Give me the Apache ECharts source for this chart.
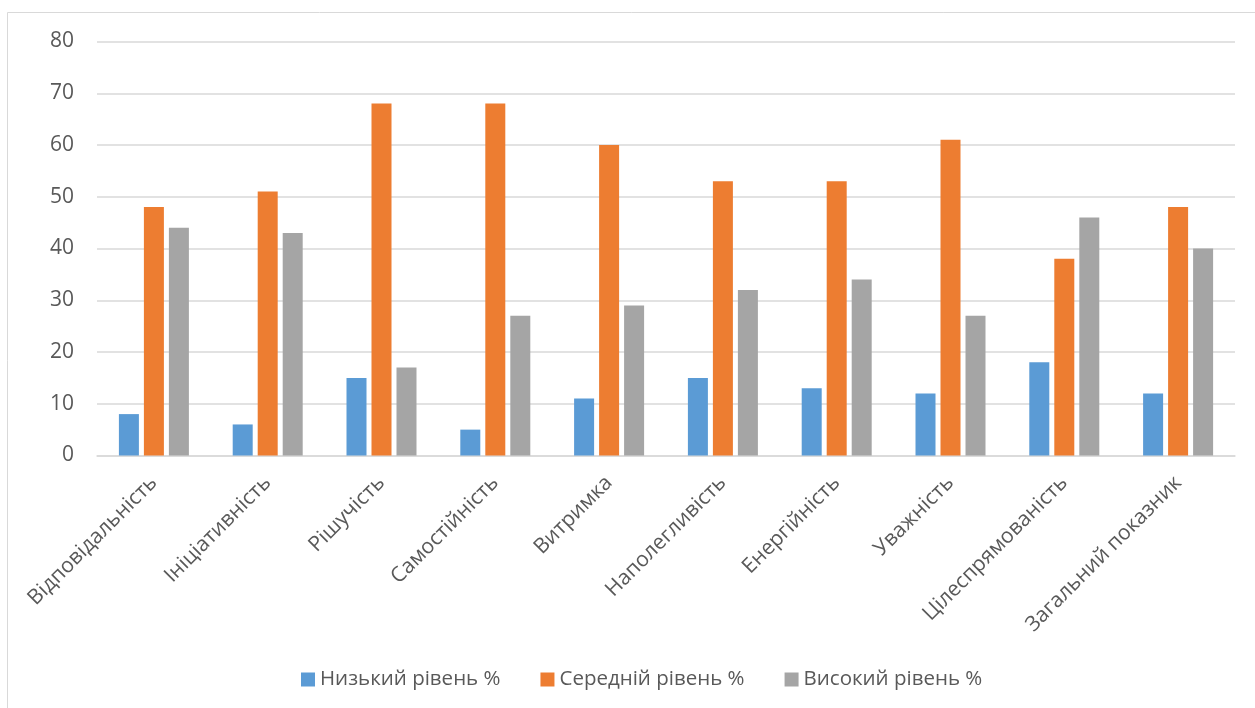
<!DOCTYPE html>
<html>
<head>
<meta charset="utf-8">
<script src="https://cdn.jsdelivr.net/npm/echarts@6/dist/echarts.min.js"></script>
<style>
  html, body { margin: 0; padding: 0; background: #fff; }
  #chart { width: 1255px; height: 708px; }
</style>
</head>
<body>
<div id="chart"></div>
<script>
// Якості особистості
const categories = [
  'Відповідальність', 'Ініціативність', 'Рішучість', 'Самостійність', 'Витримка',
  'Наполегливість', 'Енергійність', 'Уважність', 'Цілеспрямованість', 'Загальний показник'
];
const seriesNames = ['Низький рівень %', 'Середній рівень %', 'Високий рівень %'];
const lowLevel = [8, 6, 15, 5, 11, 15, 13, 12, 18, 12];
const midLevel = [48, 51, 68, 68, 60, 53, 53, 61, 38, 48];
const highLevel = [44, 43, 17, 27, 29, 32, 34, 27, 46, 40];
const yTicks = [0, 10, 20, 30, 40, 50, 60, 70, 80];

const colors = ['#5b9bd5', '#ed7d31', '#a5a5a5'];
const font = '"Open Sans", "Noto Sans", sans-serif';

const chart = echarts.init(document.getElementById('chart'), null, { renderer: 'canvas' });

const makeBar = (name, data, color) => ({
  name,
  type: 'bar',
  data,
  barWidth: 20,
  barGap: '25%',
  itemStyle: { color },
  emphasis: { disabled: true }
});

chart.setOption({
  animation: false,
  backgroundColor: '#ffffff',
  textStyle: { fontFamily: font },
  graphic: [{
    type: 'rect',
    shape: { x: 7.5, y: 12.5, width: 1300, height: 800 },
    style: { fill: 'none', stroke: '#d9d9d9', lineWidth: 1 },
    silent: true
  }],
  grid: { left: 97, right: 20, top: 41.5, bottom: 252.5, containLabel: false },
  legend: {
    left: 296,
    top: 664,
    itemWidth: 14,
    itemHeight: 14,
    itemGap: 40,
    icon: 'rect',
    data: seriesNames,
    textStyle: { color: '#595959', fontSize: 20.5, fontFamily: font }
  },
  xAxis: {
    type: 'category',
    data: categories,
    axisLine: { show: true, lineStyle: { color: '#d9d9d9', width: 1.5 } },
    axisTick: { show: false },
    axisLabel: {
      interval: 0,
      rotate: 45,
      margin: 24,
      color: '#595959',
      fontSize: 21,
      fontFamily: font
    }
  },
  yAxis: {
    type: 'value',
    min: yTicks[0],
    max: yTicks[yTicks.length - 1],
    interval: 10,
    axisLine: { show: false },
    axisTick: { show: false },
    splitLine: { lineStyle: { color: '#d9d9d9', width: 1.5 } },
    axisLabel: { color: '#595959', fontSize: 21, margin: 23, fontFamily: font }
  },
  series: [
    makeBar(seriesNames[0], lowLevel, colors[0]),
    makeBar(seriesNames[1], midLevel, colors[1]),
    makeBar(seriesNames[2], highLevel, colors[2])
  ]
});
</script>
</body>
</html>
